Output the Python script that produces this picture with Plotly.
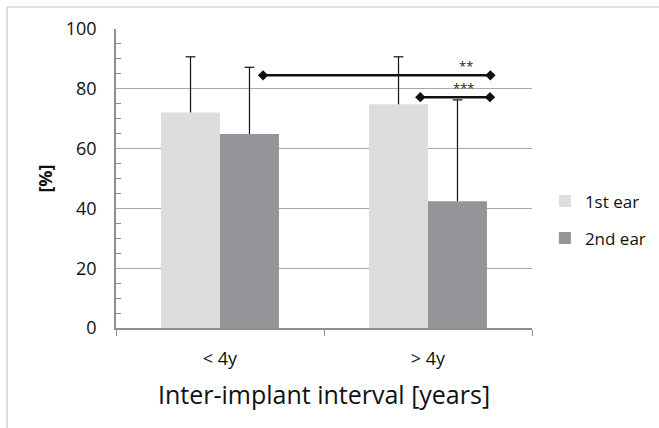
import plotly.graph_objects as go

# Group labels and series values (percent)
groups = ["< 4y", "> 4y"]
first_ear = [72.1, 74.8]
second_ear = [64.9, 42.4]
first_ear_sd = [18.6, 15.9]
second_ear_sd = [22.3, 33.9]

# Significance brackets: level, start, end, label and label position
bracket_level = [84.5, 77.2]
bracket_start = [0.207, 0.963]
bracket_end = [1.300, 1.298]
bracket_label = ["**", "***"]
bracket_label_x = [1.183, 1.173]

FONT = "Open Sans"
TEXT = "#111111"
AXIS_GRAY = "#8e8e8e"
GRID_GRAY = "#a9a9a9"
BARGAP = 0.433
xpos = list(range(len(groups)))

fig = go.Figure()

fig.add_trace(go.Bar(
    x=xpos, y=first_ear, name="1st ear", legendgroup="a",
    marker=dict(color="#dcdddf", line=dict(width=0)),
))
fig.add_trace(go.Bar(
    x=xpos, y=second_ear, name="2nd ear", legendgroup="b",
    marker=dict(color="#939598", line=dict(width=0)),
))

# Upper-only whiskers drawn at each bar's centre
bar_w = (1 - BARGAP) / 2
for shift, vals, sds in [(-bar_w / 2, first_ear, first_ear_sd),
                         (bar_w / 2, second_ear, second_ear_sd)]:
    for xi, v, sd in zip(xpos, vals, sds):
        fig.add_trace(go.Scatter(
            x=[xi + shift, xi + shift], y=[v, v + sd], mode="lines",
            line=dict(color="#111111", width=1.2),
            showlegend=False, hoverinfo="skip",
        ))
        fig.add_trace(go.Scatter(
            x=[xi + shift], y=[v + sd], mode="markers",
            marker=dict(symbol="line-ew", size=7,
                        line=dict(color="#111111", width=1.2)),
            showlegend=False, hoverinfo="skip",
        ))

# Significance brackets with diamond end markers
for lvl, x0, x1, lab, lx in zip(bracket_level, bracket_start, bracket_end,
                                bracket_label, bracket_label_x):
    fig.add_trace(go.Scatter(
        x=[x0, x1], y=[lvl, lvl], mode="lines+markers",
        line=dict(color="#111111", width=2.5),
        marker=dict(symbol="diamond", size=8, color="#111111"),
        showlegend=False, hoverinfo="skip", cliponaxis=False,
    ))
    fig.add_annotation(
        x=lx, y=lvl, text=lab, showarrow=False, yanchor="bottom", yshift=-2,
        font=dict(family=FONT, size=13, color="#222222"),
    )

# Outer frame (top and left edges visible)
fig.add_shape(type="line", xref="paper", yref="paper",
              x0=-0.262, x1=1.4, y0=1.0736, y1=1.0736,
              line=dict(color="#c4c4c4", width=1.2))
fig.add_shape(type="line", xref="paper", yref="paper",
              x0=-0.262, x1=-0.262, y0=1.0736, y1=-0.5,
              line=dict(color="#c4c4c4", width=1.2))

fig.update_layout(
    width=659, height=428,
    margin=dict(l=116, r=127, t=29, b=100, autoexpand=False),
    paper_bgcolor="white", plot_bgcolor="white",
    barmode="group", bargap=BARGAP, bargroupgap=0,
    font=dict(family=FONT, color=TEXT),
    showlegend=True,
    legend=dict(x=1.031, xanchor="left", y=0.4835, yanchor="top",
                font=dict(family=FONT, size=17, color=TEXT),
                tracegroupgap=12, bgcolor="rgba(0,0,0,0)"),
)

fig.update_xaxes(
    range=[-0.5, len(groups) - 0.5],
    tickvals=xpos, ticktext=groups, ticks="",
    tickfont=dict(family=FONT, size=18, color=TEXT),
    ticklabelstandoff=14,
    showline=True, linecolor=AXIS_GRAY, linewidth=1.5,
    showgrid=False, zeroline=False,
    minor=dict(ticks="outside", tick0=-0.5, dtick=1, ticklen=6,
               tickcolor=AXIS_GRAY, showgrid=False),
    title=dict(text="Inter-implant interval [years]",
               font=dict(family=FONT, size=25, color=TEXT), standoff=17),
)

fig.update_yaxes(
    range=[0, 100], dtick=20, ticks="",
    tickfont=dict(family=FONT, size=18, color=TEXT),
    ticklabelstandoff=14,
    showline=True, linecolor=AXIS_GRAY, linewidth=1.5,
    showgrid=True, gridcolor=GRID_GRAY, gridwidth=1.2, zeroline=False,
    minor=dict(ticks="inside", dtick=5, ticklen=5, tickcolor=AXIS_GRAY,
               showgrid=False),
    title=dict(text="<b>[%]</b>",
               font=dict(family=FONT, size=18, color=TEXT), standoff=8),
)

fig.write_html("out.html")
